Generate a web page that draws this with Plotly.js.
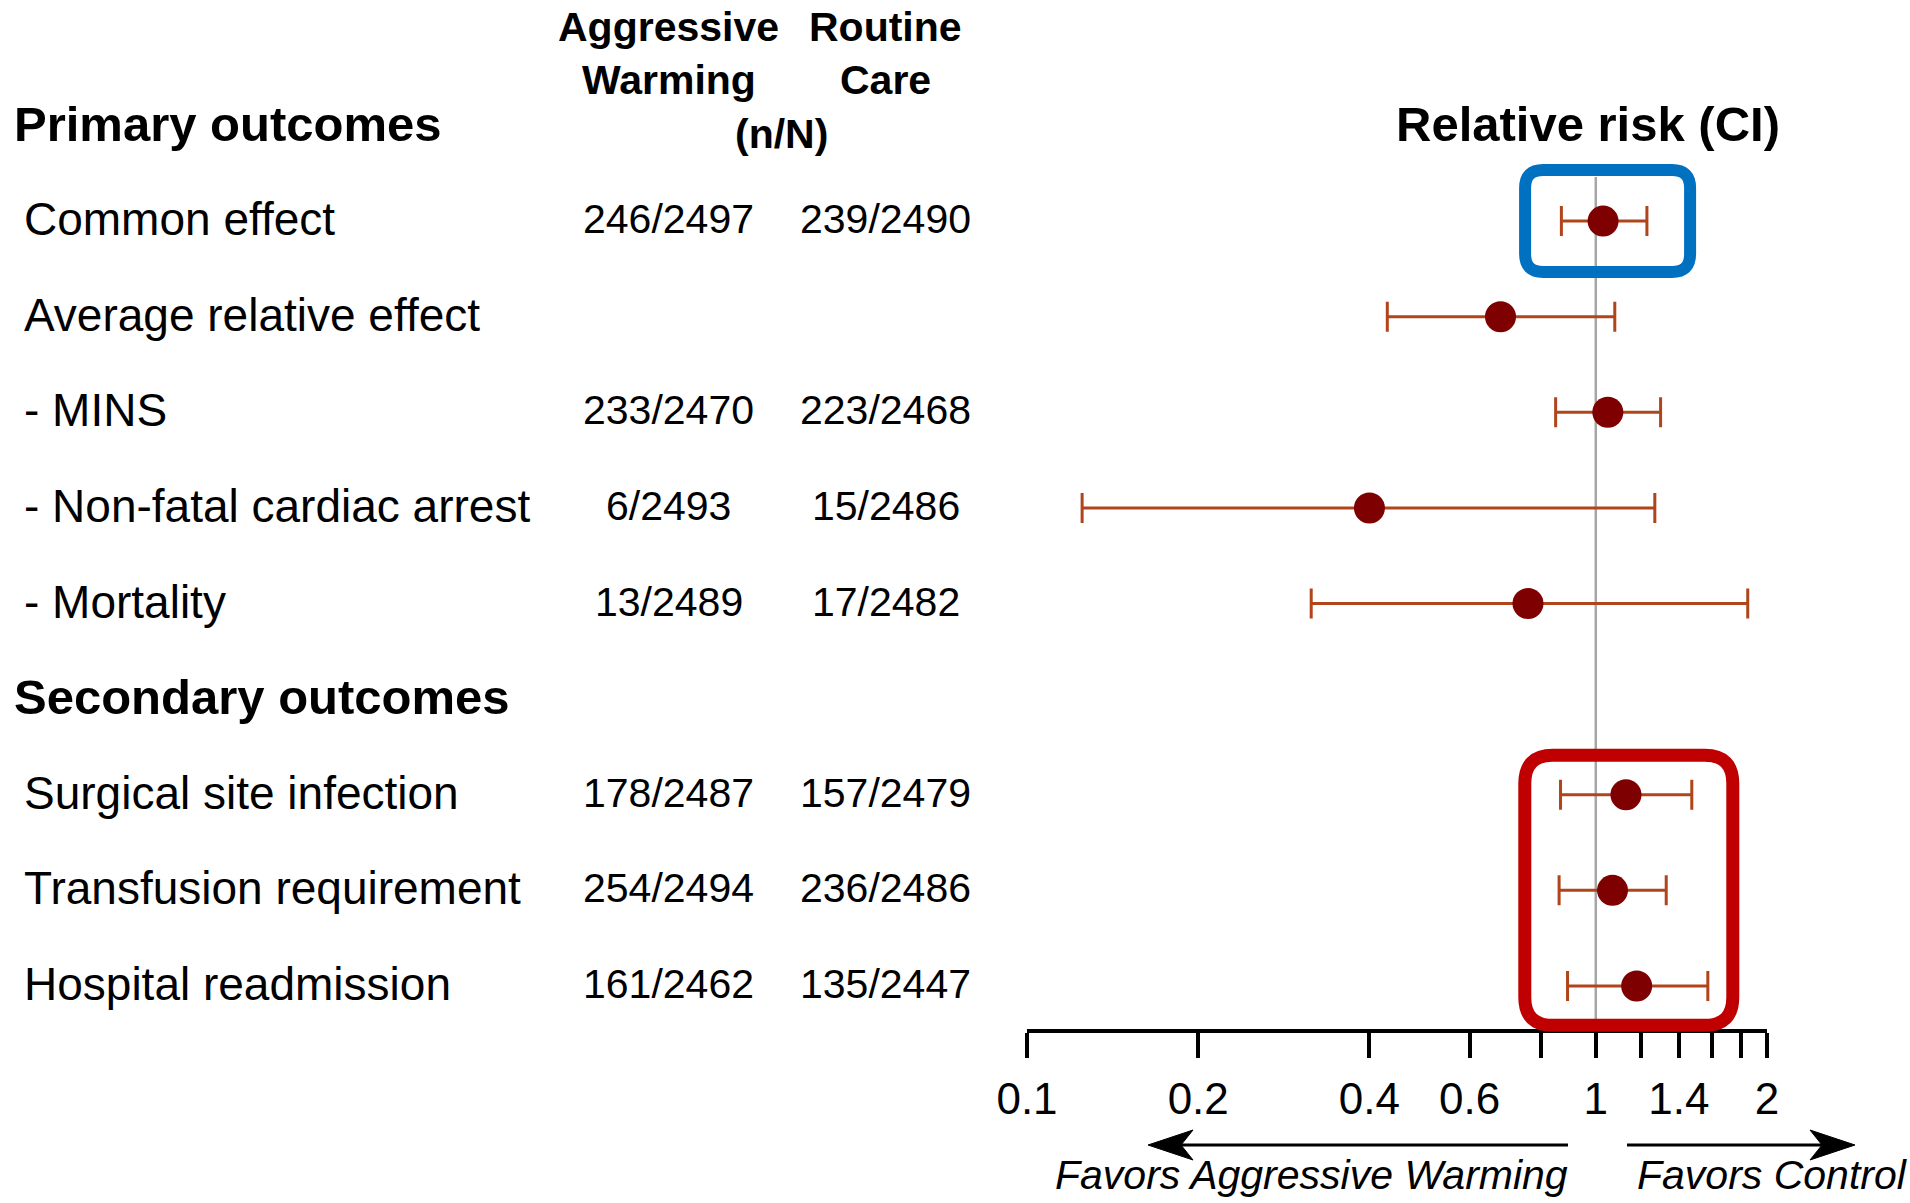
<!DOCTYPE html>
<html>
<head>
<meta charset="utf-8">
<script src="https://cdn.plot.ly/plotly-3.0.1.min.js"></script>
<style>
  html, body { margin: 0; padding: 0; background: #ffffff; }
  #chart { width: 1910px; height: 1203px; }
</style>
</head>
<body>
<div id="chart"></div>
<script>
// ---------------- data ----------------
const outcomes = ["Common effect", "Average relative effect", "- MINS", "- Non-fatal cardiac arrest",
                  "- Mortality", "Surgical site infection", "Transfusion requirement", "Hospital readmission"];
const outcomeRows = [1, 2, 3, 4, 5, 7, 8, 9];
const aggressiveWarming = ["246/2497", "", "233/2470", "6/2493", "13/2489", "178/2487", "254/2494", "161/2462"];
const routineCare = ["239/2490", "", "223/2468", "15/2486", "17/2482", "157/2479", "236/2486", "135/2447"];
const relativeRisk = [1.03, 0.68, 1.05, 0.40, 0.76, 1.13, 1.07, 1.18];
const ciLower = [0.87, 0.43, 0.85, 0.125, 0.316, 0.867, 0.862, 0.892];
const ciUpper = [1.23, 1.08, 1.30, 1.27, 1.85, 1.475, 1.33, 1.574];
const sectionTitles = ["Primary outcomes", "Secondary outcomes"];
const sectionRows = [0, 6];
const tickValues = [0.1, 0.2, 0.4, 0.6, 0.8, 1, 1.2, 1.4, 1.6, 1.8, 2];
const tickLabels = ["0.1", "0.2", "0.4", "0.6", "", "1", "", "1.4", "", "", "2"];
const columnHeaders = [["Aggressive", "Warming"], ["Routine", "Care"]];
const unitsLabel = "(n/N)";
const axisTitle = "Relative risk (CI)";
const favorsLeft = "Favors Aggressive Warming";
const favorsRight = "Favors Control";
const refValue = 1;

// ---------------- layout geometry ----------------
const W = 1910, H = 1203;
const M = { l: 1027, r: 143, t: 140, b: 174 };
const plotW = W - M.l - M.r, plotH = H - M.t - M.b;
const xr = [-1, Math.log10(2)];
const yr = [9.45, 0.1517];            // reversed: row 0 at top
const FONT = '"Liberation Sans", Arial, Helvetica, sans-serif';

const px2paperX = px => (px - M.l) / plotW;
const py2paperY = py => (H - M.b - py) / plotH;
const val2paperX = v => (Math.log10(v) - xr[0]) / (xr[1] - xr[0]);
const row2paperY = r => (r - yr[0]) / (yr[1] - yr[0]);

// ---------------- traces ----------------
const refLine = {
  x: [refValue, refValue], y: [0.539, yr[0]],
  mode: 'lines', line: { color: '#a6a6a6', width: 2.5 },
  hoverinfo: 'skip', showlegend: false, cliponaxis: false
};

const points = {
  x: relativeRisk, y: outcomeRows,
  mode: 'markers', type: 'scatter',
  marker: { size: 31, color: '#7f0000' },
  error_x: {
    type: 'data', symmetric: false,
    array: relativeRisk.map((v, i) => ciUpper[i] - v),
    arrayminus: relativeRisk.map((v, i) => v - ciLower[i]),
    color: '#b0441a', thickness: 3, width: 15
  },
  showlegend: false, cliponaxis: false
};

// ---------------- annotations ----------------
const ann = [];
function txt(text, px, py, size, opts) {
  ann.push(Object.assign({
    text: text, xref: 'paper', yref: 'paper', x: px2paperX(px), y: py2paperY(py),
    showarrow: false, xanchor: 'center', yanchor: 'middle',
    font: { family: FONT, size: size, color: '#000' }
  }, opts || {}));
}
function rowY(r) { return 123.5 + 95.6 * r; }

sectionTitles.forEach((t, i) => txt('<b>' + t + '</b>', 12, rowY(sectionRows[i]), 49, { xanchor: 'left' }));
outcomes.forEach((t, i) => {
  const y = rowY(outcomeRows[i]);
  txt(t, 22, y, 46, { xanchor: 'left' });
  if (aggressiveWarming[i]) txt(aggressiveWarming[i], 668.7, y, 41);
  if (routineCare[i]) txt(routineCare[i], 885.5, y, 41);
});
txt('<b>' + columnHeaders[0][0] + '</b>', 668.7, 27, 41);
txt('<b>' + columnHeaders[0][1] + '</b>', 668.7, 80.5, 41);
txt('<b>' + columnHeaders[1][0] + '</b>', 885.5, 27, 41);
txt('<b>' + columnHeaders[1][1] + '</b>', 885.5, 80.5, 41);
txt('<b>' + unitsLabel + '</b>', 781, 134, 41);
txt('<b>' + axisTitle + '</b>', 1588, 124, 49);
txt('<i>' + favorsLeft + '</i>', 1570, 1175, 41, { xanchor: 'right' });
txt('<i>' + favorsRight + '</i>', 1635, 1175, 41, { xanchor: 'left' });

// ---------------- shapes ----------------
function roundRect(w, h, r) {
  const a = w / 2, b = h / 2;
  return `M${-a + r},${-b} L${a - r},${-b} Q${a},${-b} ${a},${-b + r} L${a},${b - r} Q${a},${b} ${a - r},${b} ` +
         `L${-a + r},${b} Q${-a},${b} ${-a},${b - r} L${-a},${-b + r} Q${-a},${-b} ${-a + r},${-b} Z`;
}
const shapes = [
  { type: 'path', xref: 'paper', yref: 'paper', xsizemode: 'pixel', ysizemode: 'pixel',
    xanchor: val2paperX(1.049), yanchor: row2paperY(1), path: roundRect(165, 102, 18),
    line: { color: '#0070c0', width: 12 }, fillcolor: 'rgba(0,0,0,0)', layer: 'above' },
  { type: 'path', xref: 'paper', yref: 'paper', xsizemode: 'pixel', ysizemode: 'pixel',
    xanchor: val2paperX(1.143), yanchor: row2paperY(8), path: roundRect(208, 270, 28),
    line: { color: '#c00000', width: 13 }, fillcolor: 'rgba(0,0,0,0)', layer: 'above' },
  // arrows
  { type: 'line', xref: 'paper', yref: 'paper', x0: px2paperX(1568), x1: px2paperX(1170),
    y0: py2paperY(1145), y1: py2paperY(1145), line: { color: '#000', width: 3 } },
  { type: 'path', xref: 'paper', yref: 'paper', xsizemode: 'pixel', ysizemode: 'pixel',
    xanchor: px2paperX(1148), yanchor: py2paperY(1145), path: 'M0,0 L45,15 L33,0 L45,-15 Z',
    line: { color: '#000', width: 1 }, fillcolor: '#000' },
  { type: 'line', xref: 'paper', yref: 'paper', x0: px2paperX(1627), x1: px2paperX(1830),
    y0: py2paperY(1145), y1: py2paperY(1145), line: { color: '#000', width: 3 } },
  { type: 'path', xref: 'paper', yref: 'paper', xsizemode: 'pixel', ysizemode: 'pixel',
    xanchor: px2paperX(1855), yanchor: py2paperY(1145), path: 'M0,0 L-45,15 L-33,0 L-45,-15 Z',
    line: { color: '#000', width: 1 }, fillcolor: '#000' }
];

const layout = {
  width: W, height: H, margin: M,
  paper_bgcolor: '#ffffff', plot_bgcolor: '#ffffff',
  showlegend: false,
  font: { family: FONT, color: '#000' },
  xaxis: {
    type: 'log', range: xr, autorange: false, fixedrange: true,
    showgrid: false, zeroline: false,
    showline: true, linecolor: '#000', linewidth: 4,
    ticks: 'outside', ticklen: 25, tickwidth: 4, tickcolor: '#000',
    tickmode: 'array', tickvals: tickValues, ticktext: tickLabels,
    ticklabelstandoff: 3,
    tickfont: { family: FONT, size: 44, color: '#000' }
  },
  yaxis: {
    range: yr, autorange: false, fixedrange: true,
    showgrid: false, zeroline: false, showline: false, showticklabels: false, ticks: ''
  },
  annotations: ann,
  shapes: shapes
};

Plotly.newPlot('chart', [refLine, points], layout, { displayModeBar: false, staticPlot: true });
</script>
</body>
</html>
